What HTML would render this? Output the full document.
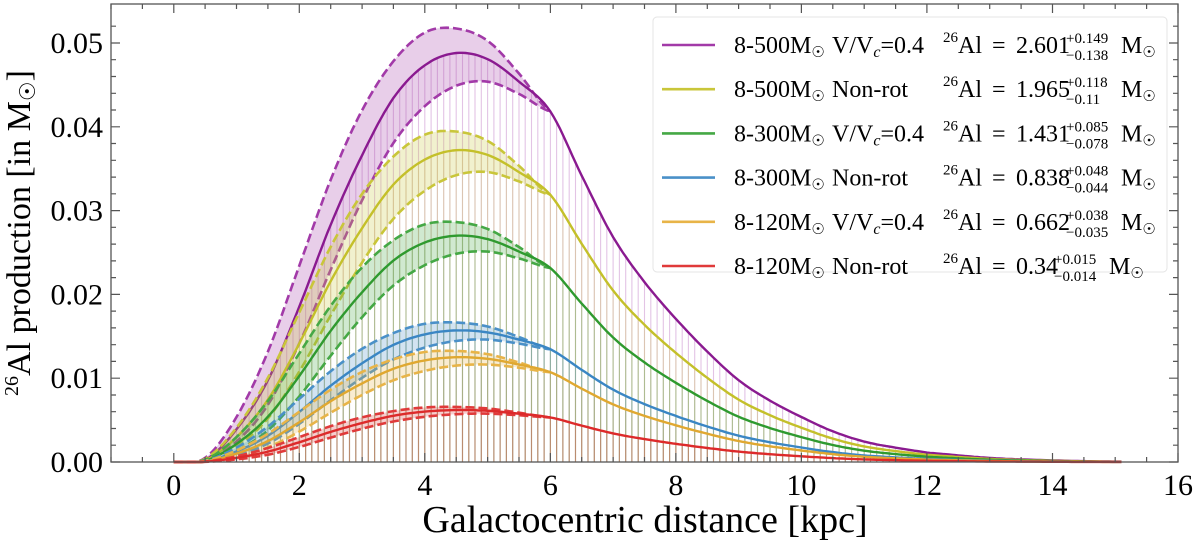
<!DOCTYPE html>
<html><head><meta charset="utf-8"><style>
html,body{margin:0;padding:0;background:#fff;}
svg{display:block;font-family:"Liberation Serif","DejaVu Serif",serif;}
</style></head><body>
<svg id="chart" width="1200" height="543" viewBox="0 0 1200 543">
<g id="marks"></g>
<rect x="111" y="4" width="1067" height="458" fill="none" stroke="#555" stroke-width="1.3"/>
<g id="ticks"></g>
<text x="30" y="233" font-size="34" text-anchor="middle" transform="rotate(-90 30 233)"><tspan font-size="20" dy="-12">26</tspan><tspan dy="12">Al production [in M</tspan><tspan font-size="22" dy="5">☉</tspan><tspan dy="-5">]</tspan></text>
<text x="645" y="532" font-size="38" text-anchor="middle">Galactocentric distance [kpc]</text>
<g id="legend">
<rect x="653" y="17" width="514" height="255" rx="4" fill="#fff" fill-opacity="0.85" stroke="#e4e4e4"/>
</g>
</svg>
<script>
const xs = [0,0.5,1,1.5,2,2.5,3,3.5,4,4.5,5,5.5,6,6.5,7,7.5,8,8.5,9,9.5,10,10.5,11,11.5,12,13,14,15];
const mainShape  = [0,0.005,0.08,0.2,0.38,0.58,0.75,0.89,0.97,1.0,0.985,0.93,0.857,0.7,0.55,0.44,0.35,0.27,0.2,0.15,0.11,0.075,0.05,0.035,0.023,0.01,0.004,0.001];
const upperShape = [0,0.01,0.11,0.27,0.48,0.69,0.86,0.98,1.05,1.06,1.03,0.95,0.857];
const lowerShape = [0,0.003,0.05,0.14,0.29,0.47,0.64,0.78,0.87,0.92,0.93,0.9,0.857];
const seriesNames = ["8-500 rot","8-500 nonrot","8-300 rot","8-300 nonrot","8-120 rot","8-120 nonrot"];
const peaks = [0.0488,0.0372,0.0270,0.0157,0.0125,0.0062];
const colors = ["#a23aa8","#c9c63a","#45a845","#4a90c8","#e8b448","#e03a3a"];
const lineColors = ["#8a1a90","#c4c02a","#2f9a2f","#3a86c4","#e0a830","#dd2a2a"];
const massLabels = ["8-500","8-500","8-300","8-300","8-120","8-120"];
const rotLabels = ["rot","non","rot","non","rot","non"];
const totals = ["2.601","1.965","1.431","0.838","0.662","0.34"];
const plusErr = ["+0.149","+0.118","+0.085","+0.048","+0.038","+0.015"];
const minusErr = ["−0.138","−0.11","−0.078","−0.044","−0.035","−0.014"];
const xTicks = [0,2,4,6,8,10,12,14,16];
const yTicks = [0,0.01,0.02,0.03,0.04,0.05];
const yTickLabels = ["0.00","0.01","0.02","0.03","0.04","0.05"];

const NS="http://www.w3.org/2000/svg";
const X0=111,X1=1178,Y0=462,Y1=4,XMIN=-1,XMAX=16,YMIN=0,YMAX=0.05465;
const sx=v=>X0+(v-XMIN)/(XMAX-XMIN)*(X1-X0);
const sy=v=>Y0-(v-YMIN)/(YMAX-YMIN)*(Y0-Y1);
function interp(arrX,arrY,x){
  const n=arrY.length;
  if(x<=arrX[0])return arrY[0];
  if(x>=arrX[n-1])return arrY[n-1];
  let i=0;while(arrX[i+1]<x)i++;
  const p0=arrY[Math.max(i-1,0)],p1=arrY[i],p2=arrY[i+1],p3=arrY[Math.min(i+2,n-1)];
  const t=(x-arrX[i])/(arrX[i+1]-arrX[i]);
  const t2=t*t,t3=t2*t;
  return 0.5*((2*p1)+(-p0+p2)*t+(2*p0-5*p1+4*p2-p3)*t2+(-p0+3*p1-3*p2+p3)*t3);
}
function mk(tag,attrs,parent){const e=document.createElementNS(NS,tag);for(const k in attrs)e.setAttribute(k,attrs[k]);parent.appendChild(e);return e;}
const marks=document.getElementById('marks');
function mainVal(s,x){return Math.max(0,peaks[s]*interp(xs,mainShape,x));}
function upVal(s,x){return x>=6?mainVal(s,x):Math.max(0,peaks[s]*interp(xs,upperShape,x));}
function loVal(s,x){return x>=6?mainVal(s,x):Math.max(0,peaks[s]*interp(xs,lowerShape,x));}
function pathOf(fn,s,a,b){let d="";for(let x=a;x<=b+1e-9;x+=0.05){d+=(d?"L":"M")+sx(x).toFixed(1)+","+sy(fn(s,x)).toFixed(1);}return d;}

for(let s=0;s<6;s++){
  const g=mk('g',{},marks);
  
  
  let d="";
  for(let k=3;k<=150;k++){const x=k*0.1;const v=mainVal(s,x);if(v<=0)continue;d+="M"+sx(x).toFixed(1)+","+Y0+"V"+sy(v).toFixed(1);}
  mk('path',{d:d,stroke:colors[s],'stroke-opacity':0.3,'stroke-width':1.1,fill:'none'},g);
}
for(let s=0;s<6;s++){
  const g=mk('g',{},marks);
  
  
  const up=pathOf(upVal,s,0,6);
  let lo="";for(let x=6;x>=-1e-9;x-=0.05){lo+="L"+sx(x).toFixed(1)+","+sy(loVal(s,x)).toFixed(1);}
  const band=mk('path',{d:up+lo+"Z",fill:colors[s],'fill-opacity':0.25,stroke:'none'},g);
  
  
  const u=mk('path',{d:up,fill:'none',stroke:colors[s],'stroke-width':2.6,'stroke-dasharray':'9,4'},g);
  
  
  const l=mk('path',{d:pathOf(loVal,s,0,6),fill:'none',stroke:colors[s],'stroke-width':2.6,'stroke-dasharray':'9,4'},g);
  
  
  const m=mk('path',{d:pathOf(mainVal,s,0,15.1),fill:'none',stroke:lineColors[s],'stroke-width':2.4},g);
  
  
}
const tg=document.getElementById('ticks');
let td="";
for(let v=-1;v<=16+1e-9;v+=0.5){const x=sx(v).toFixed(1);const L=(Math.abs(v-Math.round(v/2)*2)<1e-9)?9:5;td+="M"+x+","+Y0+"v-"+L+"M"+x+","+Y1+"v"+L;}
for(let v=0;v<=0.054;v+=0.002){const y=sy(v).toFixed(1);const L=(Math.round(v*1000)%10===0)?9:5;td+="M"+X0+","+y+"h"+L+"M"+X1+","+y+"h-"+L;}
mk('path',{d:td,stroke:'#555','stroke-width':1.2,fill:'none'},tg);
xTicks.forEach(v=>{const t=mk('text',{x:sx(v),y:495,'font-size':30,'text-anchor':'middle'},tg);t.textContent=String(v);

});
yTicks.forEach((v,i)=>{const t=mk('text',{x:103,y:sy(v)+10,'font-size':30,'text-anchor':'end'},tg);t.textContent=yTickLabels[i];

});
const lg=document.getElementById('legend');
for(let i=0;i<6;i++){
  const y=45+i*44.2;
  const b=y+8;
  const e=mk('g',{},lg);
  
  
  mk('line',{x1:662,x2:715,y1:y,y2:y,stroke:colors[i],'stroke-width':2.6},e);
  const t=mk('text',{x:734,y:b,'font-size':24},e);
  t.innerHTML=massLabels[i]+'M<tspan font-size="15" dy="4">☉</tspan>';
  const rot=rotLabels[i]==="rot";
  const r=mk('text',{x:832,y:b,'font-size':24},e);
  r.innerHTML=rot?'V/V<tspan font-style="italic" font-size="16" dy="4">c</tspan><tspan dy="-4">=0.4</tspan>':'Non-rot';
  const a=mk('text',{x:943,y:b-11,'font-size':15},e);a.textContent='26';
  const al=mk('text',{x:958,y:b,'font-size':24},e);al.textContent='Al';
  const eq=mk('text',{x:992,y:b,'font-size':24},e);eq.textContent='=';
  const t3=mk('text',{x:1016,y:b,'font-size':24},e);
  t3.textContent=totals[i];
  const ex=totals[i].length>4?1066:1054;
  const p=mk('text',{x:ex,y:y-2,'font-size':15},e);p.textContent=plusErr[i];
  const mm=mk('text',{x:ex,y:y+15,'font-size':15},e);mm.textContent=minusErr[i];
  const ms=mk('text',{x:ex+(plusErr[i].length>5?55:46),y:b,'font-size':24},e);
  ms.innerHTML='M<tspan font-size="15" dy="4">☉</tspan>';
}
</script>
</body></html>
